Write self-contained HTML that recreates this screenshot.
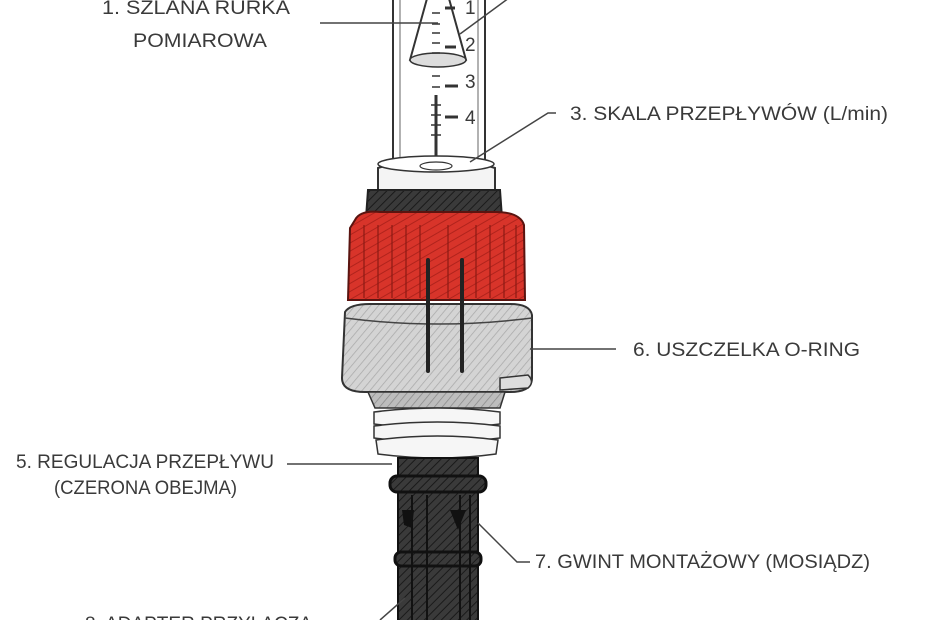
<!DOCTYPE html>
<html><head><meta charset="utf-8"><style>
html,body{margin:0;padding:0;background:#fff;}
svg{display:block}
text{font-family:"Liberation Sans",sans-serif;font-size:19px;fill:#3a3a3a}
</style></head><body>
<svg width="930" height="620" viewBox="0 0 930 620" xmlns="http://www.w3.org/2000/svg">
<defs>
<pattern id="hd" width="6" height="6" patternUnits="userSpaceOnUse" patternTransform="rotate(45)"><rect width="6" height="6" fill="#3a3a3a"/><line x1="0" y1="0" x2="0" y2="6" stroke="#1a1a1a" stroke-width="2"/></pattern>
<pattern id="hr" width="7" height="7" patternUnits="userSpaceOnUse" patternTransform="rotate(60)"><rect width="7" height="7" fill="#d8342a"/><line x1="0" y1="0" x2="0" y2="7" stroke="#b0231c" stroke-width="2"/></pattern>
<pattern id="hg" width="6" height="6" patternUnits="userSpaceOnUse" patternTransform="rotate(40)"><rect width="6" height="6" fill="#d4d4d4"/><line x1="0" y1="0" x2="0" y2="6" stroke="#a9a9a9" stroke-width="1.5"/></pattern>
<pattern id="hl" width="6" height="6" patternUnits="userSpaceOnUse" patternTransform="rotate(40)"><rect width="6" height="6" fill="#bdbdbd"/><line x1="0" y1="0" x2="0" y2="6" stroke="#8a8a8a" stroke-width="1.5"/></pattern>
</defs>
<!-- tube -->
<rect x="393" y="-5" width="92" height="170" fill="#fff" stroke="#333" stroke-width="2"/>
<line x1="400" y1="-5" x2="400" y2="160" stroke="#666" stroke-width="1"/>
<line x1="478" y1="-5" x2="478" y2="160" stroke="#666" stroke-width="1"/>
<!-- cone -->
<path d="M428 -5 L448 -5 L466 60 Q440 72 410 60 Z" fill="#fff" stroke="#333" stroke-width="2"/>
<ellipse cx="438" cy="60" rx="28" ry="7" fill="#ddd" stroke="#333" stroke-width="1.5"/>
<g stroke="#333" stroke-width="1.5">
<line x1="432" y1="13" x2="440" y2="13"/><line x1="432" y1="24" x2="440" y2="24"/><line x1="432" y1="33" x2="440" y2="33"/><line x1="432" y1="43" x2="440" y2="43"/><line x1="432" y1="53" x2="440" y2="53"/>
<line x1="432" y1="76" x2="440" y2="76"/><line x1="432" y1="87" x2="440" y2="87"/>
<line x1="445" y1="8" x2="455" y2="8" stroke-width="3"/><line x1="445" y1="47" x2="456" y2="47" stroke-width="3"/><line x1="445" y1="86" x2="458" y2="86" stroke-width="3"/><line x1="445" y1="117" x2="458" y2="117" stroke-width="3"/>
<line x1="436" y1="95" x2="436" y2="160" stroke-width="3"/>
<line x1="431" y1="105" x2="441" y2="105"/><line x1="431" y1="115" x2="441" y2="115"/><line x1="431" y1="125" x2="441" y2="125"/><line x1="431" y1="135" x2="441" y2="135"/>
</g>
<g>
<text x="465" y="14">1</text><text x="465" y="51">2</text><text x="465" y="88">3</text><text x="465" y="124">4</text>
</g>
<!-- collar -->
<path d="M378 168 Q438 150 495 168 L495 195 L378 195 Z" fill="#f4f4f4" stroke="#333" stroke-width="2"/>
<ellipse cx="436" cy="164" rx="58" ry="8" fill="#fff" stroke="#333" stroke-width="1.5"/>
<ellipse cx="436" cy="166" rx="16" ry="4" fill="#fff" stroke="#333" stroke-width="1.2"/>
<!-- black ring -->
<path d="M368 190 L500 190 L502 218 L366 218 Z" fill="url(#hd)" stroke="#222" stroke-width="2"/>
<!-- red nut -->
<path d="M355 220 Q360 210 380 212 L495 212 Q520 212 524 225 L525 300 L348 300 L350 228 Z" fill="url(#hr)" stroke="#5a1410" stroke-width="2"/>
<g stroke="#8c1a14" stroke-width="1.5" opacity="0.8">
<line x1="364" y1="225" x2="364" y2="298"/><line x1="378" y1="225" x2="378" y2="298"/><line x1="392" y1="225" x2="392" y2="298"/><line x1="406" y1="225" x2="406" y2="298"/><line x1="420" y1="225" x2="420" y2="298"/><line x1="448" y1="225" x2="448" y2="298"/><line x1="476" y1="225" x2="476" y2="298"/><line x1="490" y1="225" x2="490" y2="298"/><line x1="504" y1="225" x2="504" y2="298"/><line x1="516" y1="225" x2="516" y2="298"/>
</g>
<!-- grey o-ring band -->
<path d="M345 312 Q350 304 370 304 L510 304 Q530 304 532 315 L532 378 Q532 392 510 392 L365 392 Q342 392 342 378 Z" fill="url(#hg)" stroke="#333" stroke-width="2"/>
<path d="M345 318 Q438 330 532 318" fill="none" stroke="#444" stroke-width="1.5"/>
<path d="M500 378 L528 375 Q535 382 528 388 L500 390 Z" fill="#ddd" stroke="#333" stroke-width="1.5"/>
<!-- vertical pins -->
<rect x="426" y="258" width="4" height="115" rx="2" fill="#222"/>
<rect x="460" y="258" width="4" height="115" rx="2" fill="#222"/>
<!-- thread -->
<path d="M368 392 L505 392 L500 408 L375 408 Z" fill="url(#hl)" stroke="#333" stroke-width="1.5"/>
<g fill="#f6f6f6" stroke="#333" stroke-width="1.5">
<path d="M374 412 Q438 404 500 412 L500 424 Q438 432 374 424 Z"/>
<path d="M374 426 Q438 418 500 426 L500 438 Q438 446 374 438 Z"/>
<path d="M376 440 Q438 432 498 440 L496 454 Q438 462 378 454 Z"/>
</g>
<!-- black adapter -->
<rect x="398" y="458" width="80" height="170" fill="url(#hd)" stroke="#111" stroke-width="2"/>
<rect x="390" y="476" width="96" height="16" rx="7" fill="url(#hd)" stroke="#111" stroke-width="3"/>
<rect x="395" y="552" width="86" height="14" rx="6" fill="url(#hd)" stroke="#111" stroke-width="3"/>
<g stroke="#111" stroke-width="2"><line x1="412" y1="495" x2="412" y2="620"/><line x1="427" y1="495" x2="427" y2="620"/><line x1="460" y1="495" x2="460" y2="620"/><line x1="470" y1="495" x2="470" y2="620"/></g>
<path d="M402 510 L414 510 L412 528 L404 525 Z M450 510 L466 510 L458 530 Z" fill="#111"/>
<!-- leader lines -->
<g stroke="#444" stroke-width="1.5" fill="none">
<line x1="320" y1="23" x2="438" y2="23"/>
<line x1="460" y1="34" x2="513" y2="-5"/>
<polyline points="556,113 548,113 470,162"/>
<line x1="530" y1="349" x2="616" y2="349"/>
<line x1="287" y1="464" x2="392" y2="464"/>
<polyline points="478,523 517,562 530,562"/>
<line x1="380" y1="620" x2="405" y2="598"/>
</g>
<!-- labels -->
<text x="102" y="14" textLength="188" lengthAdjust="spacingAndGlyphs">1. SZLANA RURKA</text>
<text x="133" y="47" textLength="134" lengthAdjust="spacingAndGlyphs">POMIAROWA</text>
<text x="570" y="120" textLength="318" lengthAdjust="spacingAndGlyphs">3. SKALA PRZEPŁYWÓW (L/min)</text>
<text x="633" y="356" textLength="227" lengthAdjust="spacingAndGlyphs">6. USZCZELKA O-RING</text>
<text x="16" y="468" textLength="258" lengthAdjust="spacingAndGlyphs">5. REGULACJA PRZEPŁYWU</text>
<text x="54" y="494" textLength="183" lengthAdjust="spacingAndGlyphs">(CZERONA OBEJMA)</text>
<text x="535" y="568" textLength="335" lengthAdjust="spacingAndGlyphs">7. GWINT MONTAŻOWY (MOSIĄDZ)</text>
<text x="85" y="630" textLength="227" lengthAdjust="spacingAndGlyphs">8. ADAPTER PRZYŁĄCZA</text>
</svg>
</body></html>
